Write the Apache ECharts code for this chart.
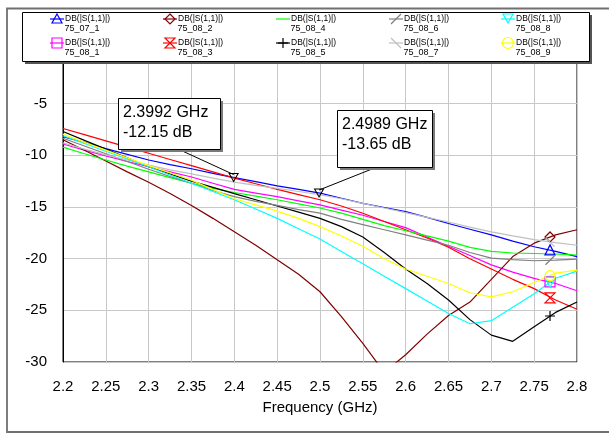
<!DOCTYPE html>
<html><head><meta charset="utf-8">
<script src="https://cdn.jsdelivr.net/npm/echarts@6/dist/echarts.min.js"></script>
<style>html,body{margin:0;padding:0;background:#fff}#c{width:609px;height:433px}</style>
</head><body><div id="c"></div>
<script>
// ---- data ----
const freqs = [2.2,2.225,2.25,2.275,2.3,2.325,2.35,2.375,2.4,2.425,2.45,2.475,2.5,2.525,2.55,2.575,2.6,2.625,2.65,2.675,2.7,2.725,2.75,2.775,2.8];
const s75_07_1 = [-8.2,-8.75,-9.35,-9.9,-10.45,-10.9,-11.3,-11.75,-12.15,-12.55,-12.95,-13.3,-13.65,-14.15,-14.65,-15.05,-15.45,-16.0,-16.6,-17.15,-17.7,-18.3,-18.85,-19.3,-19.8];
const s75_08_1 = [-8.9,-9.5,-10.05,-10.6,-11.1,-11.6,-12.1,-12.7,-13.3,-13.65,-14.0,-14.4,-14.8,-15.3,-15.8,-16.4,-17.0,-17.9,-18.8,-19.7,-20.6,-21.3,-21.9,-22.4,-23.1];
const s75_08_2 = [-8.5,-9.5,-10.55,-11.6,-12.6,-13.7,-14.85,-16.1,-17.4,-18.7,-20.1,-21.5,-23.2,-25.6,-28.2,-31.0,-29.3,-27.3,-25.5,-24.2,-22.0,-19.8,-18.5,-17.7,-17.2];
const s75_08_3 = [-7.4,-8.0,-8.6,-9.2,-9.8,-10.4,-11.0,-11.6,-12.2,-12.75,-13.3,-13.8,-14.3,-14.9,-15.6,-16.4,-17.2,-18.0,-18.9,-20.0,-21.0,-22.0,-22.9,-24.0,-24.9];
const s75_08_4 = [-9.2,-9.85,-10.45,-11.05,-11.6,-12.15,-12.7,-13.2,-13.6,-13.95,-14.3,-14.7,-15.1,-15.6,-16.2,-16.8,-17.3,-17.8,-18.3,-18.9,-19.3,-19.45,-19.5,-19.55,-19.65];
const s75_08_5 = [-7.7,-8.55,-9.4,-10.25,-11.1,-11.8,-12.5,-13.1,-13.7,-14.3,-14.9,-15.5,-16.1,-16.9,-17.9,-19.4,-21.0,-22.4,-24.0,-25.9,-27.4,-28.0,-26.6,-25.2,-24.2];
const s75_08_6 = [-8.35,-9.1,-9.85,-10.6,-11.35,-12.05,-12.7,-13.4,-14.0,-14.45,-14.85,-15.25,-15.6,-16.2,-16.7,-17.2,-17.7,-18.2,-18.7,-19.4,-19.95,-20.1,-20.2,-20.15,-20.05];
const s75_08_7 = [-8.8,-9.4,-9.95,-10.45,-10.95,-11.4,-11.8,-12.2,-12.6,-12.9,-13.2,-13.5,-13.8,-14.2,-14.65,-15.1,-15.55,-16.0,-16.45,-16.95,-17.4,-17.8,-18.15,-18.45,-18.7];
const s75_08_8 = [-8.1,-8.85,-9.6,-10.35,-11.1,-11.9,-12.7,-13.5,-14.3,-15.2,-16.1,-17.1,-18.1,-19.3,-20.5,-21.7,-22.9,-24.1,-25.3,-26.3,-26.0,-24.7,-23.4,-21.9,-21.2];
const s75_08_9 = [-7.95,-8.75,-9.5,-10.25,-11.0,-11.7,-12.4,-13.3,-14.2,-14.8,-15.4,-16.1,-16.9,-17.8,-18.8,-20.0,-21.0,-21.7,-22.4,-23.3,-23.7,-23.2,-22.3,-21.4,-21.1];
const traceNames = ['75_07_1','75_08_1','75_08_2','75_08_3','75_08_4','75_08_5','75_08_6','75_08_7','75_08_8','75_08_9'];
const traceValues = [s75_07_1,s75_08_1,s75_08_2,s75_08_3,s75_08_4,s75_08_5,s75_08_6,s75_08_7,s75_08_8,s75_08_9];
const markerFreq = 2.7685;
const markerVals = [-19.15,-22.25,-17.9,-23.8,null,-25.55,-20.15,-18.4,-22.3,-21.65];
const annotFreqs = [2.3992, 2.4989];
const annotVals = [-12.15, -13.65];
const annotTexts = [['2.3992 GHz','-12.15 dB'],['2.4989 GHz','-13.65 dB']];
const legendLabel = 'DB(|S(1,1)|)';
const xAxisName = 'Frequency (GHz)';

// ---- styles ----
const colors = ['#0000ff','#ff00ff','#800000','#ff0000','#00ff00','#000000','#808080','#c0c0c0','#00ffff','#ffff00'];
// marker shapes as polylines in a 10x10 box: [points, closed]
const symShapes = [
  [[[5,0],[10,9],[0,9]],true],
  [[[0,0],[10,0],[10,10],[0,10]],true],
  [[[5,0],[10,5],[5,10],[0,5]],true],
  [[[0,0],[10,0],[0,10],[10,10]],true],
  null,
  [[[5,0],[5,10]],false,[[0,5],[10,5]]],
  [[[0,10],[10,0]],false],
  [[[0,0],[10,10]],false],
  [[[0,0],[10,0],[5,9]],true],
  'circle'
];
function toPath(sh){
  if (sh==='circle') return 'circle';
  let d = 'M'+sh[0].map(p=>p.join(',')).join(' L')+(sh[1]?' Z':'');
  if (sh[2]) d += ' M'+sh[2].map(p=>p.join(',')).join(' L');
  return 'path://'+d;
}
const FONT = '"Liberation Sans", Arial, sans-serif';

const chart = echarts.init(document.getElementById('c'), null, {renderer:'canvas'});
const series = traceNames.map((n,i)=>{
  const s = {
    name: n, type:'line', data: freqs.map((f,k)=>[f, traceValues[i][k]]),
    showSymbol:false, symbol:'none', animation:false, clip:true,
    lineStyle:{color:colors[i], width:1.2}, itemStyle:{color:colors[i]}, z: 2
  };
  const mp = [];
  if (markerVals[i] != null) {
    mp.push({coord:[markerFreq, markerVals[i]], symbol: toPath(symShapes[i]),
      symbolSize: i===6||i===7 ? 9 : 10,
      itemStyle:{color:'rgba(0,0,0,0)', borderColor:colors[i], borderWidth:1.2}});
  }
  if (i===0) {
    annotFreqs.forEach((f,k)=>mp.push({coord:[f, annotVals[k]], symbol:'path://M0,0 L10,0 L5,9 Z', symbolSize:[9,8],
      itemStyle:{color:'rgba(0,0,0,0)', borderColor:'#000', borderWidth:1}}));
  }
  if (mp.length) s.markPoint = {data: mp, silent:true, animation:false, label:{show:false}};
  return s;
});

// legend (drawn as graphic)
const legendEls = [];
legendEls.push({type:'rect', shape:{x:25,y:15,width:567,height:49}, style:{fill:'#555'}, z:100});
legendEls.push({type:'rect', shape:{x:22.5,y:12.5,width:567,height:49}, style:{fill:'#fff', stroke:'#000', lineWidth:1}, z:101});
const colX = [57,170,283,396,508];
const rowY = [19,43];
traceNames.forEach((n,i)=>{
  const cx = colX[Math.floor(i/2)], cy = rowY[i%2];
  legendEls.push({type:'line', shape:{x1:cx-7,y1:cy,x2:cx+7,y2:cy}, style:{stroke:colors[i], lineWidth:1.2}, z:102});
  const sh = symShapes[i];
  const tr = p=>[cx-5+p[0], cy-5+p[1]];
  if (sh==='circle') {
    legendEls.push({type:'circle', shape:{cx:cx, cy:cy, r:5.5}, style:{fill:'none', stroke:colors[i], lineWidth:1.2}, z:102});
  } else if (sh) {
    legendEls.push({type: sh[1]?'polygon':'polyline', shape:{points: sh[0].map(tr)}, style:{fill:'none', stroke:colors[i], lineWidth:1.2}, z:102});
    if (sh[2]) legendEls.push({type:'polyline', shape:{points: sh[2].map(tr)}, style:{fill:'none', stroke:colors[i], lineWidth:1.2}, z:102});
  }
  legendEls.push({type:'text', x:cx+8, y:cy, style:{text:legendLabel, fill:'#000', font:'8.5px '+FONT, textVerticalAlign:'middle', textAlign:'left'}, z:102});
  legendEls.push({type:'text', x:cx+25, y:cy+10, style:{text:n, fill:'#000', font:'9px '+FONT, textVerticalAlign:'middle', textAlign:'center'}, z:102});
});
// outer frame
legendEls.push({type:'rect', shape:{x:7,y:8.5,width:700,height:423.5}, style:{fill:'none', stroke:'#707070', lineWidth:1.8}, z:99});

chart.setOption({
  backgroundColor:'#fff',
  animation:false,
  grid:{left:63, right:32, top:52, bottom:71, show:true, borderColor:'#000', borderWidth:1, backgroundColor:'rgba(0,0,0,0)', outerBoundsMode:'none', containLabel:false},
  xAxis:{type:'value', min:2.2, max:2.8, interval:0.05,
    name:xAxisName, nameLocation:'middle', nameGap:38, nameTextStyle:{fontSize:15, color:'#000', fontFamily:FONT},
    axisLine:{show:true, lineStyle:{color:'#000'}}, axisTick:{show:false},
    axisLabel:{color:'#000', fontSize:15, fontFamily:FONT, margin:17, formatter:v=>String(+(+v).toFixed(2))},
    splitLine:{show:true, lineStyle:{color:'#c8c8c8', width:1}}},
  yAxis:{type:'value', min:-30, max:0, interval:5,
    axisLine:{show:true, lineStyle:{color:'#000'}}, axisTick:{show:false},
    axisLabel:{color:'#000', fontSize:15, fontFamily:FONT, margin:16, formatter:v=>v===0?'':String(v)},
    splitLine:{show:true, lineStyle:{color:'#c8c8c8', width:1}}},
  series: series,
  graphic: legendEls
});

// annotation boxes with leader lines to the marker points
const boxes = [{x:118,y:98,w:102,h:51,ax:178,ay:149},{x:337,y:110,w:95,h:57,ax:377,ay:167}];
const annEls = [];
boxes.forEach((b,k)=>{
  const p = chart.convertToPixel({gridIndex:0},[annotFreqs[k], annotVals[k]]);
  annEls.push({type:'line', shape:{x1:b.ax,y1:b.ay,x2:p[0],y2:p[1]-3}, style:{stroke:'#000', lineWidth:1}, z:50});
  annEls.push({type:'rect', shape:{x:b.x+3,y:b.y+3,width:b.w,height:b.h}, style:{fill:'#7a7a7a'}, z:51});
  annEls.push({type:'rect', shape:{x:b.x+0.5,y:b.y+0.5,width:b.w,height:b.h}, style:{fill:'#fff', stroke:'#000', lineWidth:1}, z:52});
  annEls.push({type:'text', x:b.x+5, y:b.y+15, style:{text:annotTexts[k][0], fill:'#000', font:'16px '+FONT, textVerticalAlign:'middle'}, z:53});
  annEls.push({type:'text', x:b.x+5, y:b.y+35, style:{text:annotTexts[k][1], fill:'#000', font:'16px '+FONT, textVerticalAlign:'middle'}, z:53});
});
chart.setOption({graphic: legendEls.concat(annEls)});
</script></body></html>
